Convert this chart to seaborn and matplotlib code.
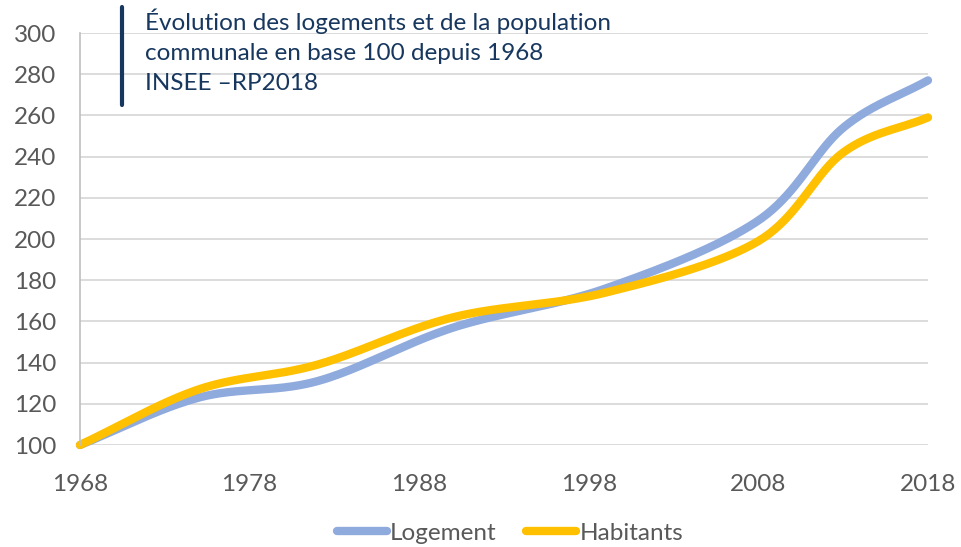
import numpy as np
import pandas as pd
import matplotlib
matplotlib.use("Agg")
import matplotlib.pyplot as plt
import seaborn as sns
from matplotlib.lines import Line2D

years = [1968, 1975, 1982, 1990, 1999, 2008, 2013, 2018]
logement = [100, 123, 131, 157, 176, 209, 254, 277]
habitants = [100, 127, 139, 162, 174, 199, 242, 259]
series_names = ["Logement", "Habitants"]
colors = ["#8FAADC", "#FFC000"]
xticks = [1968, 1978, 1988, 1998, 2008, 2018]
yticks = list(range(100, 301, 20))
title = "Évolution des logements et de la population\ncommunale en base 100 depuis 1968\nINSEE \u2013RP2018"


def smooth(xs, ys, n=40):
    # Catmull-Rom (Excel-like smoothed line) through the given points
    xs = np.asarray(xs, float); ys = np.asarray(ys, float)
    P = np.column_stack([xs, ys])
    P = np.vstack([P[0] - (P[1] - P[0]), P, P[-1] + (P[-1] - P[-2])])
    out = []
    for i in range(1, len(P) - 2):
        p0, p1, p2, p3 = P[i - 1], P[i], P[i + 1], P[i + 2]
        t = np.linspace(0, 1, n, endpoint=False)[:, None]
        b1 = p1 + (p2 - p0) / 6
        b2 = p2 - (p3 - p1) / 6
        seg = ((1 - t) ** 3) * p1 + 3 * ((1 - t) ** 2) * t * b1 + 3 * (1 - t) * t ** 2 * b2 + t ** 3 * p2
        out.append(seg)
    out.append(P[-2][None, :])
    out = np.vstack(out)
    return out[:, 0], out[:, 1]


frames = []
for name, vals in zip(series_names, [logement, habitants]):
    sx, sy = smooth(years, vals)
    frames.append(pd.DataFrame({"x": sx, "y": sy, "serie": name}))
df = pd.concat(frames, ignore_index=True)

sns.set_theme(style="white")
plt.rcParams["font.family"] = ["Lato", "DejaVu Sans"]

fig = plt.figure(figsize=(9.61, 5.47), dpi=100)
ax = fig.add_axes([80 / 961, 102 / 547, 848 / 961, 412 / 547])

for spine in ["top", "right", "bottom"]:
    ax.spines[spine].set_visible(False)
ax.spines["left"].set_color("#BFBFBF")
ax.spines["left"].set_linewidth(1.2)
ax.set_yticks(yticks)
ax.set_xticks(xticks)
ax.yaxis.grid(True, color="#D9D9D9", linewidth=1.3)
ax.set_axisbelow(True)

sns.lineplot(data=df, x="x", y="y", hue="serie", hue_order=series_names,
             palette=colors, sort=False, estimator=None, units="serie",
             linewidth=6, ax=ax, legend=False, solid_capstyle="round")
for ln in ax.lines:
    ln.set_clip_on(False)

ax.set_xlim(1968, 2018)
ax.set_ylim(100, 300)
ax.set_xlabel("")
ax.set_ylabel("")
ax.tick_params(axis="both", length=0, labelsize=17.5, colors="#595959")
ax.tick_params(axis="x", pad=21)
ax.tick_params(axis="y", pad=17)

handles = [Line2D([0], [0], color=c, lw=6, solid_capstyle="round") for c in colors]
fig.legend(handles, series_names, loc="center", bbox_to_anchor=(510 / 961, (547 - 533) / 547),
           ncol=2, frameon=False, fontsize=17.5, labelcolor="#595959",
           handlelength=2.05, handletextpad=0.15, columnspacing=1.2)

fig.add_artist(Line2D([122 / 961, 122 / 961], [1 - 7 / 547, 1 - 105 / 547], color="#17375E", lw=3))
fig.text(145 / 961, 1 - 9 / 547, title, ha="left", va="top", fontsize=17.5,
         color="#17375E", linespacing=1.5)

fig.savefig("out.png", dpi=100)
